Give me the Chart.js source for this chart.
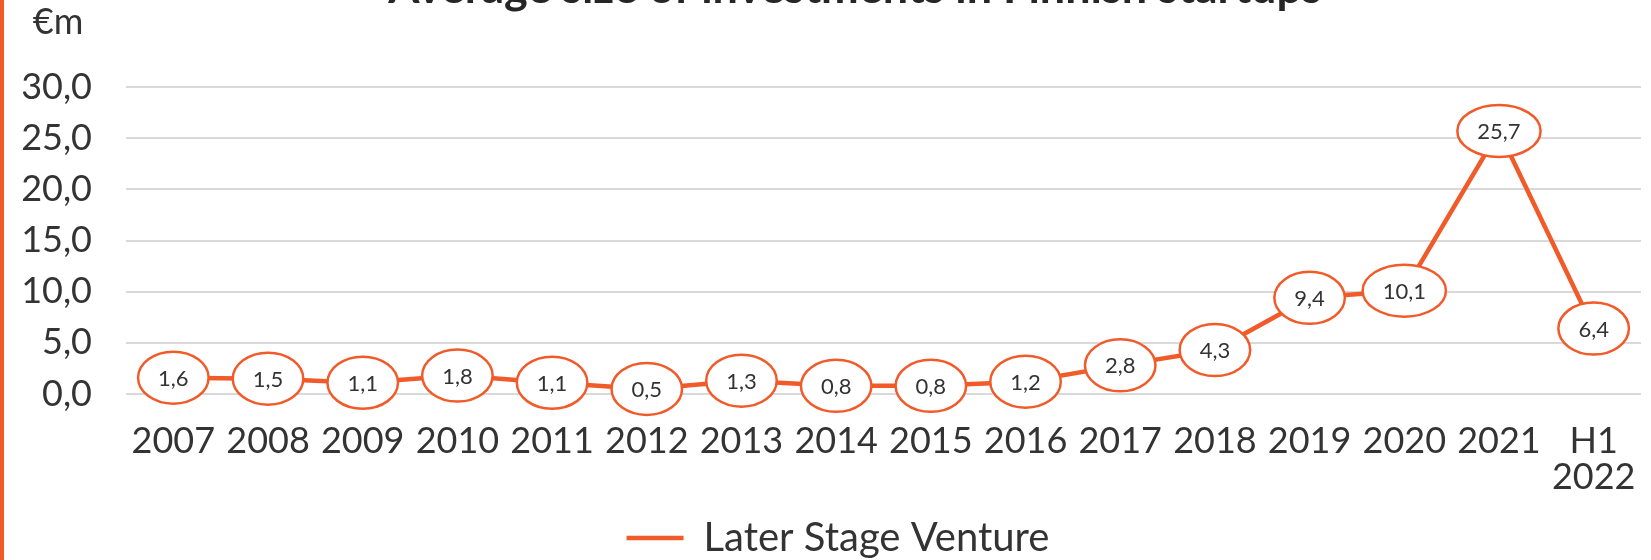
<!DOCTYPE html>
<html>
<head>
<meta charset="utf-8">
<script src="https://cdn.jsdelivr.net/npm/chart.js@4/dist/chart.umd.min.js"></script>
<style>
  html, body { margin: 0; padding: 0; background: #fff; }
  #wrap { position: relative; width: 1651px; height: 560px; overflow: hidden; }
  #edge { position: absolute; left: 0; top: 0; width: 4px; height: 560px; background: #F15A29; z-index: 2; }
  canvas { position: absolute; left: 0; top: 0; }
</style>
</head>
<body>
<div id="wrap">
  <div id="edge"></div>
  <canvas id="investChart" width="1651" height="600"></canvas>
</div>
<script>
const chartTitle = 'Average size of investments in Finnish startups';
const unitLabel = '€m';
const seriesName = 'Later Stage Venture';

const years = ['2007', '2008', '2009', '2010', '2011', '2012', '2013', '2014',
  '2015', '2016', '2017', '2018', '2019', '2020', '2021', ['H1', '2022']];

const laterStageValues = [1.6, 1.5, 1.1, 1.8, 1.1, 0.5, 1.3, 0.8, 0.8, 1.2, 2.8, 4.3, 9.4, 10.1, 25.7, 6.4];

const yTicks = [0, 5, 10, 15, 20, 25, 30];

const orange = '#F15A29';
const textColor = '#333333';
const fontFamily = 'Lato, "Open Sans", sans-serif';

// Finnish style decimals: 1,6
const fmt = (v) => Number(v).toFixed(1).replace('.', ',');

// Draws the cut-off title and the unit label above the axis.
const headerPlugin = {
  id: 'header',
  afterLayout(chart) {
    // y labels are clipped to the scale box, let them use the left margin too
    chart.scales.y.left = 0;
  },
  afterDraw(chart) {
    const { ctx } = chart;
    ctx.save();
    ctx.fillStyle = '#262626';
    ctx.font = `bold 45px ${fontFamily}`;
    ctx.textAlign = 'center';
    ctx.textBaseline = 'alphabetic';
    ctx.fillText(chartTitle, 855, 3);

    ctx.fillStyle = textColor;
    ctx.font = `36px ${fontFamily}`;
    ctx.textBaseline = 'middle';
    ctx.fillText(unitLabel, 58, 22);
    ctx.restore();
  }
};

// Draws the value bubbles (ellipses) on top of each point.
const bubblePlugin = {
  id: 'bubbles',
  afterDatasetsDraw(chart) {
    const { ctx } = chart;
    const meta = chart.getDatasetMeta(0);
    const values = chart.data.datasets[0].data;

    ctx.save();
    ctx.font = `22px ${fontFamily}`;
    ctx.textAlign = 'center';
    ctx.textBaseline = 'middle';

    meta.data.forEach((pt, i) => {
      const label = fmt(values[i]);
      const rx = (ctx.measureText(label).width + 40) / 2;
      const ry = 26;

      ctx.beginPath();
      ctx.ellipse(pt.x, pt.y, rx, ry, 0, 0, Math.PI * 2);
      ctx.fillStyle = '#ffffff';
      ctx.fill();
      ctx.lineWidth = 2.5;
      ctx.strokeStyle = orange;
      ctx.stroke();

      ctx.fillStyle = textColor;
      ctx.fillText(label, pt.x, pt.y + 1);
    });
    ctx.restore();
  }
};

const chart = new Chart(document.getElementById('investChart'), {
  type: 'line',
  data: {
    labels: years,
    datasets: [{
      label: seriesName,
      data: laterStageValues,
      borderColor: orange,
      backgroundColor: orange,
      borderWidth: 4.5,
      borderCapStyle: 'round',
      pointRadius: 0,
      pointHoverRadius: 0,
      tension: 0
    }]
  },
  options: {
    responsive: false,
    animation: false,
    layout: {
      padding: { top: 87, right: 10, left: 35, bottom: 32 }
    },
    plugins: {
      title: { display: false },
      tooltip: { enabled: false },
      legend: {
        display: true,
        position: 'bottom',
        labels: {
          color: textColor,
          font: { family: fontFamily, size: 40, lineHeight: 1.0 },
          usePointStyle: true,
          pointStyle: 'line',
          pointStyleWidth: 57,
          padding: 19
        }
      }
    },
    scales: {
      x: {
        offset: true,
        afterFit: (scale) => {
          scale.height = 105;
          // the last label fits inside the offset, no extra side padding needed
          scale.paddingLeft = 0;
          scale.paddingRight = 0;
        },
        grid: { display: false, drawTicks: false },
        border: { display: false },
        ticks: {
          color: textColor,
          font: { family: fontFamily, size: 36, lineHeight: 1.0 },
          padding: 29,
          maxRotation: 0,
          autoSkip: false
        }
      },
      y: {
        min: 0,
        max: 30,
        afterFit: (scale) => { scale.width = 91; },
        afterBuildTicks: (scale) => { scale.ticks = yTicks.map((v) => ({ value: v })); },
        grid: { color: '#D9D9D9', lineWidth: 2, drawTicks: false },
        border: { display: false },
        ticks: {
          color: textColor,
          font: { family: fontFamily, size: 36 },
          padding: 34,
          callback: (v) => fmt(v)
        }
      }
    }
  },
  plugins: [headerPlugin, bubblePlugin]
});
</script>
</body>
</html>
